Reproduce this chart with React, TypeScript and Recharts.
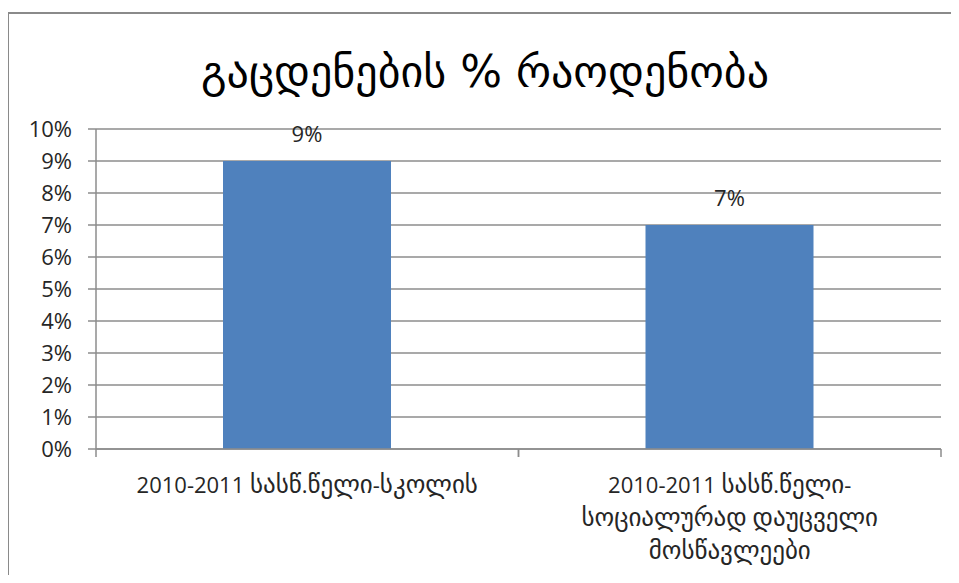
import React from "react";
import { BarChart, Bar, XAxis, YAxis, CartesianGrid, LabelList } from "recharts";

const title = "გაცდენების % რაოდენობა";
const categories = ["2010-2011 სასწ.წელი-სკოლის", "2010-2011 სასწ.წელი-სოციალურად დაუცველი მოსწავლეები"];
const categoryLines: string[][] = [
  ["2010-2011 სასწ.წელი-სკოლის"],
  ["2010-2011 სასწ.წელი-", "სოციალურად დაუცველი", "მოსწავლეები"],
];
const values = [0.09, 0.07];
const yTicks = [0, 0.01, 0.02, 0.03, 0.04, 0.05, 0.06, 0.07, 0.08, 0.09, 0.1];

const data = categories.map((c, i) => ({ name: c, value: values[i] }));

const FONT = "'Open Sans', 'DejaVu Sans', sans-serif";
const GEO_FONT = "'DejaVu Sans', sans-serif";
const GRID = "#8c8c8c";
const TEXT = "#262626";

const pct = (v: number) => `${Math.round(v * 100)}%`;

const isGeo = (ch: string) => {
  const c = ch.charCodeAt(0);
  return c >= 0x10a0 && c <= 0x10ff;
};

const splitRuns = (s: string) => {
  const runs: { geo: boolean; text: string }[] = [];
  for (const ch of s) {
    const g = isGeo(ch);
    const last = runs[runs.length - 1];
    if (last && last.geo === g) last.text += ch;
    else runs.push({ geo: g, text: ch });
  }
  return runs;
};

const XTick = (props: any) => {
  const { x, y, payload, index } = props;
  const half = payload.offset || 0;
  const lines = categoryLines[index] || [String(payload.value)];
  return (
    <g>
      <line x1={x - half} x2={x - half} y1={y} y2={y + 8} stroke={GRID} strokeWidth={1.5} />
      <line x1={x + half} x2={x + half} y1={y} y2={y + 8} stroke={GRID} strokeWidth={1.5} />
      {lines.map((l, i) => (
        <text key={i} x={x} y={y + 44 + i * 33} textAnchor="middle" fill={TEXT} fontFamily={FONT} fontSize={22}>
          {splitRuns(l).map((r, j) => (
            <tspan key={j} fontSize={r.geo ? 25 : 22} fontFamily={r.geo ? GEO_FONT : FONT}>
              {r.text}
            </tspan>
          ))}
        </text>
      ))}
    </g>
  );
};

export default function App() {
  return (
    <div style={{ position: "relative", width: 959, height: 583, margin: -8, overflow: "hidden", background: "#fff" }}>
      <div style={{ position: "absolute", left: 7, top: 12, width: 2, height: 600, background: "#8a8a8a" }} />
      <div style={{ position: "absolute", left: 7, top: 12, width: 1000, height: 2, background: "#8a8a8a" }} />
      <div
        style={{
          position: "absolute",
          left: 0,
          top: 42,
          width: 970,
          textAlign: "center",
          fontFamily: GEO_FONT,
          fontSize: 44,
          color: "#000",
          lineHeight: "60px",
          whiteSpace: "nowrap",
        }}
      >
        {title}
      </div>
      <div style={{ position: "absolute", left: 0, top: 0 }}>
        <BarChart width={959} height={583} data={data} margin={{ top: 129, right: 18, left: 0, bottom: 0 }}>
          <CartesianGrid vertical={false} stroke={GRID} strokeWidth={1.5} />
          <XAxis
            dataKey="name"
            height={134}
            interval={0}
            tickLine={false}
            tickSize={0}
            tickMargin={0}
            axisLine={{ stroke: GRID, strokeWidth: 1.5 }}
            tick={<XTick />}
          />
          <YAxis
            width={96}
            domain={[0, 0.1]}
            ticks={yTicks}
            interval={0}
            tickFormatter={pct}
            tickSize={8}
            tickMargin={16}
            axisLine={{ stroke: GRID, strokeWidth: 1.5 }}
            tickLine={{ stroke: GRID, strokeWidth: 1.5 }}
            tick={{ fontSize: 22, fill: TEXT, fontFamily: FONT }}
          />
          <Bar dataKey="value" fill="#4F81BD" barSize={168} isAnimationActive={false}>
            <LabelList
              dataKey="value"
              position="top"
              offset={19}
              formatter={(v: any) => pct(Number(v))}
              fontSize={22}
              fill={TEXT}
              fontFamily={FONT}
            />
          </Bar>
        </BarChart>
      </div>
    </div>
  );
}
